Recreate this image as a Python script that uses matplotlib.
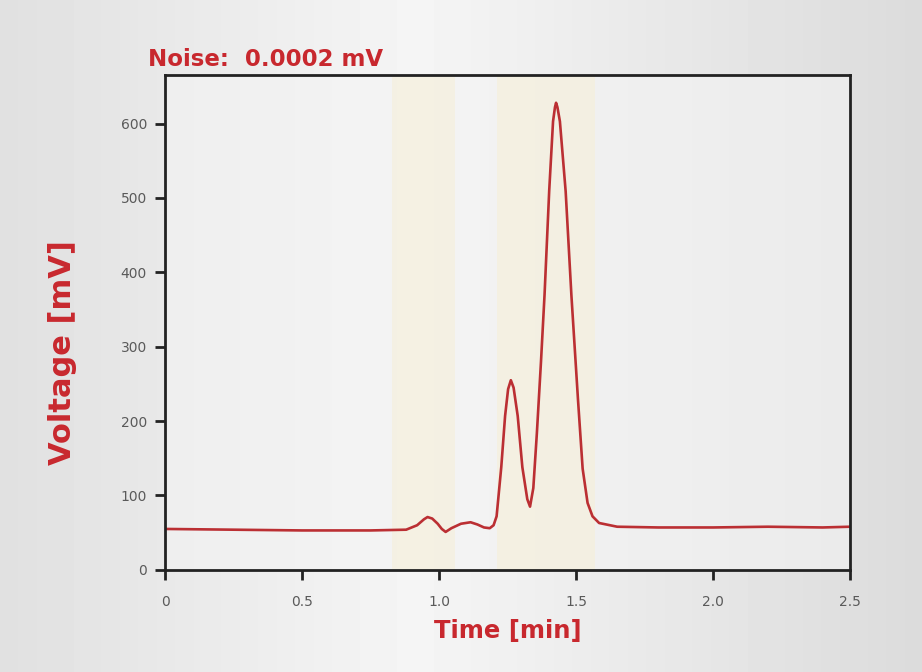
import numpy as np
import matplotlib
matplotlib.use("Agg")
import matplotlib.pyplot as plt

# Chromatogram trace (relative to the tilted axes)
time_min = [0.00, 0.25, 0.50, 0.75, 0.88, 0.92, 0.945, 0.958, 0.975, 0.995, 1.010,
            1.024, 1.045, 1.080, 1.115, 1.140, 1.164, 1.185, 1.199, 1.210, 1.227,
            1.241, 1.252, 1.262, 1.272, 1.287, 1.304, 1.322, 1.332, 1.344, 1.357,
            1.372, 1.385, 1.402, 1.416, 1.423, 1.427, 1.432, 1.441, 1.462, 1.483,
            1.507, 1.524, 1.542, 1.560, 1.584, 1.650, 1.800, 2.000, 2.200, 2.400, 2.500]
voltage_mv = [55, 54, 53, 53, 54, 60, 68, 71, 69, 62, 55,
              51, 56, 62, 64, 61, 57, 56, 60, 72, 138,
              207, 243, 255, 245, 207, 138, 95, 85, 110, 184,
              280, 370, 510, 603, 622, 628, 622, 603, 509, 369,
              229, 136, 90, 72, 63, 58, 57, 57, 58, 57, 58]

x_ticks = [0, 0.5, 1.0, 1.5, 2.0, 2.5]
x_tick_labels = ["0", "0.5", "1.0", "1.5", "2.0", "2.5"]
y_ticks = [0, 100, 200, 300, 400, 500, 600]
highlight_bands = [(0.83, 1.06), (1.21, 1.57)]

red = "#c8282e"
trace = "#bb2f33"

fig = plt.figure(figsize=(9.22, 6.72), dpi=100)
fig.patch.set_facecolor("#e4e4e4")

# background gradient
bg = fig.add_axes([0, 0, 1, 1], zorder=-5)
grad = np.tile(np.concatenate([np.linspace(0.88, 0.96, 45), np.linspace(0.96, 0.86, 55)]), (10, 1))
bg.imshow(grad, cmap="gray", vmin=0, vmax=1, aspect="auto", extent=[0, 1, 0, 1])
bg.set_axis_off()

ax = fig.add_axes([0.179, 0.152, 0.743, 0.736])
ax.set_facecolor("#f4f4f4")
ax.patch.set_alpha(0.6)

for a, b in highlight_bands:
    ax.axvspan(a, b, color="#f6efd6", alpha=0.55, lw=0)

ax.plot(time_min, voltage_mv, color=trace, lw=1.9, solid_joinstyle="round")

ax.set_xlim(0, 2.5)
ax.set_ylim(0, 665)
ax.set_xticks(x_ticks)
ax.set_xticklabels(x_tick_labels)
ax.set_yticks(y_ticks)
for s in ax.spines.values():
    s.set_linewidth(2.0)
    s.set_color("#222222")
ax.tick_params(direction="out", length=7, width=2, colors="#222222",
               labelsize=10, labelcolor="#5a5a5a", pad=6)
ax.tick_params(axis="x", pad=11)

ax.set_xlabel("Time [min]", color=red, fontsize=17.5, fontweight="bold")
ax.xaxis.set_label_coords(0.5, -0.10)
ax.set_ylabel("Voltage [mV]", color=red, fontsize=22, fontweight="bold")
ax.yaxis.set_label_coords(-0.128, 0.44)
ax.text(-0.025, 1.008, "Noise:  0.0002 mV", transform=ax.transAxes, color=red,
        fontsize=16.5, fontweight="bold", ha="left", va="bottom")

fig.savefig("out.png", dpi=100)
